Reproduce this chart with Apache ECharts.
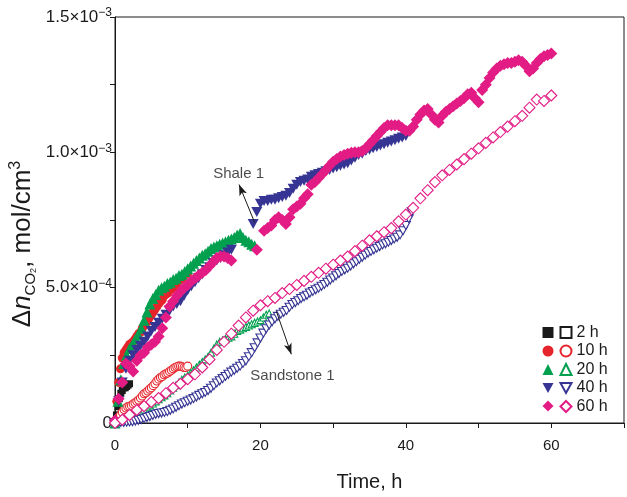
<!DOCTYPE html>
<html><head><meta charset="utf-8">
<script src="https://cdn.jsdelivr.net/npm/echarts@6/dist/echarts.min.js"></script>
<style>html,body{margin:0;padding:0;background:#fff}#c{width:627px;height:497px}</style>
</head><body><div id="c"></div>
<script>
// ---- categories / labels ----
const seriesNames = ['2 h', '10 h', '20 h', '40 h', '60 h'];
const colors = ['#1a1a1a', '#e5252b', '#00a04f', '#363594', '#e31c85'];
const xTickLabels = [0, 20, 40, 60];
const yTickValues = [0, 5, 10, 15];              // in 1e-4 mol/cm3
const yTickBase = ['0', '5.0×10', '1.0×10', '1.5×10'];
const yTickExp = ['', '−4', '−3', '−3'];

// ---- values: Δn (×1e-4 mol/cm3), sampled every <step> hours; null = no point ----
const shale2Step = 0.2;
const shale2 = [0, 0.3, 0.6, 0.9, 1.1, 1.2, 1.3, 1.3, 1.35, 1.4, 1.45];
const sand2Step = 0.2;
const sand2 = [0, 0.05, 0.1, 0.15, 0.2, 0.3, 0.35, 0.45, 0.5, 0.55, 0.6];

const shale10Step = 0.25;
const shale10 = [0, 0.8, 1.5, 2.0, 2.4, 2.6, 2.7, 2.8, 2.9, 2.95, 3.0, 3.1, 3.2, 3.3, 3.35, 3.5, 3.6, 3.7, 3.75, 3.9,
  4.0, 4.1, 4.2, 4.3, 4.4, 4.5, 4.55, 4.7, 4.75, 4.8, 4.9, 4.95, 5.0, 5.1, 5.15, 5.25, 5.3, 5.35, 5.45, 5.5, 5.55];
const sand10Step = 0.25;
const sand10 = [0, 0.1, 0.2, 0.3, 0.4, 0.5, 0.55, 0.6, 0.62, 0.65, 0.7, 0.75, 0.8, 0.85, 0.92, 1.0, 1.08, 1.12, 1.18, 1.25,
  1.3, 1.38, 1.45, 1.55, 1.62, 1.68, 1.72, 1.78, 1.82, 1.85, 1.9, 1.95, 2.0, 2.05, 2.08, 2.1, 2.1, 2.08, 2.05, 2.05, 2.1];

const shale20Step = 0.4;
const shale20 = [0, 0.8, 1.6, 2.2, 2.5, 2.75, 2.9, 3.1, 3.25, 3.5, 3.8, 4.1, 4.4, 4.6, 4.75, 4.9, 5.0, 5.05, 5.15, 5.2,
  5.3, 5.35, 5.45, 5.5, 5.6, 5.7, 5.8, 5.9, 6.0, 6.1, 6.2, 6.25, 6.35, 6.45, 6.5, 6.55, 6.6, 6.65, 6.7, 6.75,
  6.8, 6.85, 6.95, 7.0, 6.85, 6.75, 6.7, 6.6, 6.55];
const sand20Step = 0.4;
const sand20 = [0, 0.05, 0.1, 0.15, 0.2, 0.25, 0.3, 0.35, 0.4, 0.45, 0.5, 0.58, 0.65, 0.72, 0.8, 0.88, 0.95, 1.02, 1.1, 1.2,
  1.3, 1.4, 1.5, 1.6, 1.68, 1.75, 1.85, 1.95, 2.05, 2.15, 2.25, 2.35, 2.45, 2.6, 2.75, 2.9, 3.0, 3.05, 3.1, 3.15,
  3.2, 3.3, 3.4, 3.45, 3.5, 3.55, 3.6, 3.65, 3.7, 3.75, 3.8, 3.9, 4.0, 4.05];

const shale40Step = 0.5;
const shale40 = [0, 0.8, 1.5, 2.0, 2.3, 2.5, 2.7, 2.85, 3.0, 3.2, 3.4, 3.55, 3.7, 3.85, 4.0, 4.15, 4.3, 4.4, 4.5, 4.7,
  4.9, 5.05, 5.2, 5.35, 5.5, 5.65, 5.75, 5.9, 6.0, 6.1, 6.2, 6.3, 6.4, null, null, null, null, null, 7.35, 7.8,
  8.1, 8.2, 8.2, 8.25, 8.25, 8.3, 8.35, 8.4, 8.5, 8.65, 8.8, 8.9, 8.95, 9.0, 9.1, 9.15, 9.2, 9.25, 9.3, 9.35,
  9.4, 9.45, 9.5, 9.55, 9.6, 9.7, 9.8, 9.9, 9.95, 10.05, 10.1, 10.15, 10.2, 10.25, 10.3, 10.35, 10.4, 10.45, 10.5, 10.55, 10.6];
const sand40Step = 0.4;
const sand40 = [0, 0, 0.02, 0.02, 0.03, 0.04, 0.05, 0.07, 0.1, 0.13, 0.16, 0.2, 0.24, 0.28, 0.32, 0.35, 0.37, 0.39, 0.42, 0.47,
  0.52, 0.58, 0.64, 0.7, 0.75, 0.8, 0.85, 0.9, 0.96, 1.02, 1.08, 1.13, 1.2, 1.28, 1.38, 1.48, 1.56, 1.64, 1.72, 1.8,
  1.88, 1.95, 2.02, 2.1, 2.2, 2.3, 2.45, 2.6, 2.78, 2.96, 3.14, 3.32, 3.48, 3.62, 3.74, 3.85, 3.94, 4.02, 4.09, 4.16,
  4.28, 4.38, 4.45, 4.52, 4.6, 4.66, 4.72, 4.8, 4.86, 4.92, 4.98, 5.05, 5.12, 5.2, 5.28, 5.36, 5.44, 5.52, 5.6, 5.66,
  5.72, 5.8, 5.88, 5.96, 6.05, 6.12, 6.2, 6.28, 6.34, 6.4, 6.46, 6.52, 6.58, 6.62, 6.68, 6.74, 6.8, 6.86, 6.95, 7.1,
  7.3, 7.55, 7.8];

const shale60Step = 0.5;
const shale60 = [0.1, 0.9, 1.5, 2.2, 2.1, 1.9, 2.3, 2.5, 2.6, 2.8, 2.9, 3.0, 3.2, 3.5, 3.9, 4.3, 4.5, 4.7, 4.85, 5.0,
  5.1, 5.25, 5.35, 5.45, 5.55, 5.65, 5.8, 5.95, 6.1, 6.15, 6.15, 6.1, 6.0, null, null, null, null, null, null, 6.4,
  null, 7.1, 7.2, 7.3, 7.5, 7.6, 7.5, 7.35, 7.6, 7.9, 8.0, 8.1, 8.3, 8.45, 8.8, 8.9, 9.05, 9.2, 9.35, 9.5,
  9.65, 9.75, 9.85, 9.9, 9.95, 9.98, 10.0, 10.0, 10.05, 10.15, 10.3, 10.45, 10.6, 10.75, 10.9, 11.0, 11.0, 11.0, 11.0, 10.9,
  10.8, 10.8, 10.95, 11.2, 11.4, 11.55, 11.6, 11.4, 11.2, 11.1, 11.35, 11.5, 11.6, 11.7, 11.8, 11.9, 12.0, 12.15, 12.2, 12.0,
  11.85, 12.3, 12.5, 12.75, 12.95, 13.1, 13.2, 13.25, 13.3, 13.3, 13.35, 13.4, 13.35, 13.2, 13.0, 13.1, 13.3, 13.45, 13.55, 13.6, 13.65];
const sand60Step = 1;
const sand60 = [0, 0.12, 0.3, 0.48, 0.62, 0.78, 0.92, 1.1, 1.3, 1.45, 1.62, 1.8, 2.05, 2.35, 2.7, 3.0, 3.3, 3.6, 3.9, 4.15,
  4.35, 4.5, 4.62, 4.8, 4.95, 5.1, 5.25, 5.4, 5.55, 5.7, 5.85, 6.0, 6.15, 6.35, 6.55, 6.75, 6.9, 7.05, 7.2, 7.45,
  7.7, 7.95, 8.3, 8.6, 8.9, 9.15, 9.35, 9.55, 9.75, 9.95, 10.15, 10.35, 10.55, 10.75, 10.95, 11.15, 11.35, 11.65, 11.95, 11.9, 12.1];

// ---- annotations (data coordinates) ----
const noteTexts = ['Shale 1', 'Sandstone 1'];
const notePos = [[17.0, 9.2], [24.4, 1.75]];
const arrowFrom = [[19.2, 7.41], [22.2, 4.12]];
const arrowTo = [[17.06, 8.81], [24.25, 2.54]];

const FONT = 'Liberation Sans, Arial, Helvetica, sans-serif';
const invTri = 'path://M0,0L20,0L10,18Z';
const shaleSymbols = ['rect', 'circle', 'triangle', invTri, 'diamond'];
const shaleSizes = [7, 9, 11, [11, 10], 12];
const sandSizes = [7, 8, 7, [9, 8], 11];
const shaleData = [[shale2, shale2Step], [shale10, shale10Step], [shale20, shale20Step], [shale40, shale40Step], [shale60, shale60Step]];
const sandData = [[sand2, sand2Step], [sand10, sand10Step], [sand20, sand20Step], [sand40, sand40Step], [sand60, sand60Step]];

function toPairs(vals, step) {
  const out = [];
  vals.forEach((v, i) => { if (v !== null) out.push([+(i * step).toFixed(2), v]); });
  return out;
}

const series = [];
for (let k = 0; k < 5; k++) {
  series.push({
    name: seriesNames[k] + ' ', type: 'scatter', symbol: shaleSymbols[k], symbolSize: shaleSizes[k],
    data: toPairs(shaleData[k][0], shaleData[k][1]),
    itemStyle: { color: colors[k], opacity: 1 }, silent: true
  });
  series.push({
    name: seriesNames[k], type: 'scatter', symbol: shaleSymbols[k], symbolSize: sandSizes[k],
    data: toPairs(sandData[k][0], sandData[k][1]),
    itemStyle: { color: '#ffffff', borderColor: colors[k], borderWidth: 1.1, opacity: 1 }, silent: true
  });
}
series.push({
  type: 'scatter', silent: true, symbolSize: 0, z: 10,
  data: notePos.map((p, i) => [p[0], p[1], noteTexts[i]]),
  label: { show: true, position: 'inside', formatter: p => p.data[2], color: '#1a1a1a', fontSize: 15, fontFamily: FONT },
  markLine: {
    silent: true, animation: false, symbol: ['none', 'arrow'], symbolSize: [6, 11],
    lineStyle: { color: '#1a1a1a', width: 1, type: 'solid' }, label: { show: false },
    data: arrowFrom.map((f, i) => [{ coord: f }, { coord: arrowTo[i] }])
  }
});

const legendCommon = {
  orient: 'vertical', itemWidth: 11, itemHeight: 11, padding: 0, selectedMode: false
};

const chart = echarts.init(document.getElementById('c'), null, { renderer: 'canvas' });
chart.setOption({
  animation: false,
  backgroundColor: '#ffffff',
  grid: { left: 115, right: 1, top: 17, bottom: 69, show: true, borderColor: '#1a1a1a', borderWidth: 1, backgroundColor: 'transparent' },
  xAxis: {
    type: 'value', min: 0, max: 70, interval: 10,
    name: 'Time, h', nameLocation: 'middle', nameGap: 49,
    nameTextStyle: { fontSize: 20, color: '#1a1a1a', fontFamily: FONT },
    axisLine: { show: true, lineStyle: { color: '#1a1a1a', width: 1 } },
    axisTick: { show: true, length: 5, lineStyle: { color: '#1a1a1a' } },
    axisLabel: { margin: 15, fontSize: 15, color: '#1a1a1a', fontFamily: FONT,
      formatter: v => xTickLabels.indexOf(v) >= 0 ? String(v) : '' },
    splitLine: { show: false }
  },
  yAxis: {
    type: 'value', min: 0, max: 15, interval: 2.5,
    axisLine: { show: true, lineStyle: { color: '#1a1a1a', width: 1 } },
    axisTick: { show: true, length: 5, lineStyle: { color: '#1a1a1a' } },
    axisLabel: { margin: 3, color: '#1a1a1a', fontFamily: FONT,
      formatter: v => {
        const i = yTickValues.indexOf(v);
        if (i < 0) return '';
        return yTickExp[i] ? '{m|' + yTickBase[i] + '}{s|' + yTickExp[i] + '}' : '{m|' + yTickBase[i] + '}';
      },
      rich: {
        m: { fontSize: 17, fontFamily: FONT, color: '#1a1a1a', lineHeight: 20 },
        s: { fontSize: 12, fontFamily: FONT, color: '#1a1a1a', verticalAlign: 'top', lineHeight: 20 }
      }
    },
    splitLine: { show: false }
  },
  legend: [
    Object.assign({ data: seriesNames.map(n => n + ' '), left: 542.5, top: 327, itemGap: 7.5, formatter: () => '',
      textStyle: { fontSize: 16 } }, legendCommon),
    Object.assign({ data: seriesNames, left: 559.5, top: 324.5, itemGap: 2.5,
      textStyle: { fontSize: 16, color: '#1a1a1a', fontFamily: FONT } }, legendCommon)
  ],
  graphic: [{
    type: 'text', x: 23, y: 244, rotation: Math.PI / 2, silent: true,
    style: {
      text: '{a|Δ}{i|n}{b|CO}{c|2}{a|, mol/cm}{s|3}',
      align: 'center', verticalAlign: 'middle',
      rich: {
        a: { fontSize: 26, fontFamily: FONT, fill: '#1a1a1a', lineHeight: 30 },
        i: { fontSize: 26, fontFamily: FONT, fontStyle: 'italic', fill: '#1a1a1a', lineHeight: 30 },
        b: { fontSize: 15, fontFamily: FONT, fill: '#1a1a1a', verticalAlign: 'bottom', lineHeight: 30 },
        c: { fontSize: 9, fontFamily: FONT, fill: '#1a1a1a', verticalAlign: 'bottom', lineHeight: 28 },
        s: { fontSize: 16, fontFamily: FONT, fill: '#1a1a1a', verticalAlign: 'top', lineHeight: 30 }
      }
    }
  }],
  series: series
});
</script></body></html>
